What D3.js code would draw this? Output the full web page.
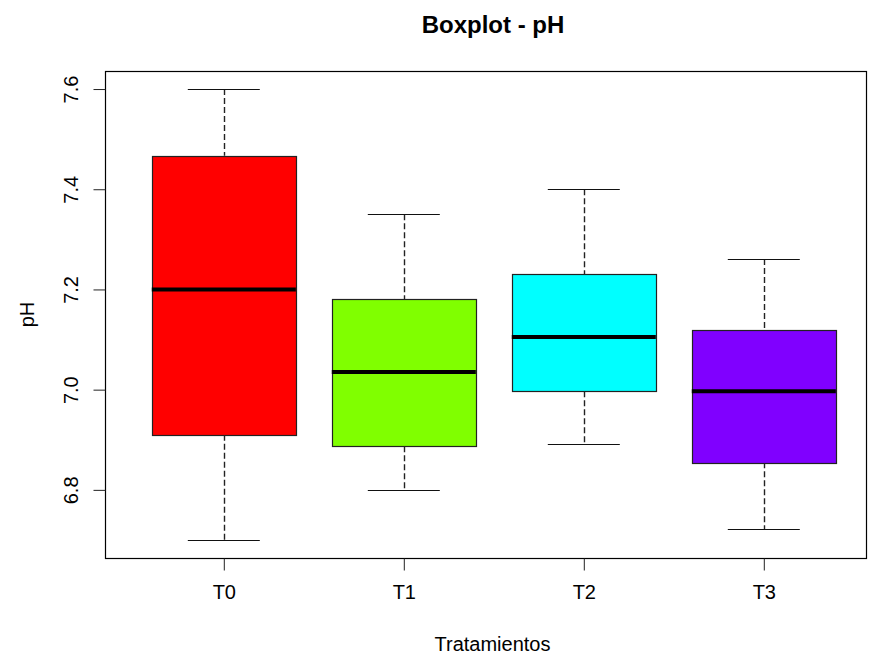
<!DOCTYPE html>
<html>
<head>
<meta charset="utf-8">
<script src="https://cdn.jsdelivr.net/npm/d3@7"></script>
<style>
  html, body { margin: 0; padding: 0; background: #fff; }
  svg { display: block; }
  text { font-family: "Liberation Sans", Arial, sans-serif; fill: #000; }
</style>
</head>
<body>
<svg id="chart" width="870" height="654"></svg>
<script>
// Treatments and their five-number summaries of pH
const categories = ["T0", "T1", "T2", "T3"];
const whiskerLow  = [6.700, 6.800, 6.891, 6.722];
const q1          = [6.910, 6.887, 6.997, 6.855];
const medians     = [7.200, 7.035, 7.105, 6.997];
const q3          = [7.467, 7.180, 7.231, 7.120];
const whiskerHigh = [7.600, 7.350, 7.400, 7.261];
const fills       = ["#FF0000", "#80FF00", "#00FFFF", "#8000FF"];
const yTicks      = [6.8, 7.0, 7.2, 7.4, 7.6];

const svg = d3.select("#chart");

// Plot region
const plotLeft = 105, plotTop = 71, plotBottom = 558, plotRight = 866;

// Scales: R-style ranges extended 4% beyond the data
const yLo = d3.min(whiskerLow), yHi = d3.max(whiskerHigh);
const yPad = (yHi - yLo) * 0.04;
const y = d3.scaleLinear().domain([yLo - yPad, yHi + yPad]).range([plotBottom, plotTop]);

const n = categories.length;
const xPad = n * 0.04;
const x = d3.scaleLinear().domain([0.5 - xPad, n + 0.5 + xPad])
  .range([plotLeft, plotLeft + 180 * (n + 2 * xPad)]);

const boxW = 0.8, capW = 0.4;
const data = categories.map((c, i) => ({
  cat: c, pos: i + 1,
  lo: whiskerLow[i], q1: q1[i], med: medians[i], q3: q3[i], hi: whiskerHigh[i],
  fill: fills[i]
}));

const crisp = v => Math.round(v) + 0.5;

const g = svg.append("g");
const boxes = g.selectAll("g.box").data(data).join("g").attr("class", "box");

// Dashed whiskers
boxes.append("line")
  .attr("x1", d => crisp(x(d.pos))).attr("x2", d => crisp(x(d.pos)))
  .attr("y1", d => y(d.hi)).attr("y2", d => y(d.q3))
  .attr("stroke", "#222").attr("stroke-width", 1.4).attr("stroke-dasharray", "6,3");
boxes.append("line")
  .attr("x1", d => crisp(x(d.pos))).attr("x2", d => crisp(x(d.pos)))
  .attr("y1", d => y(d.q1)).attr("y2", d => y(d.lo))
  .attr("stroke", "#222").attr("stroke-width", 1.4).attr("stroke-dasharray", "6,3");

// Whisker caps
["hi", "lo"].forEach(k => {
  boxes.append("line")
    .attr("x1", d => x(d.pos - capW / 2)).attr("x2", d => x(d.pos + capW / 2))
    .attr("y1", d => crisp(y(d[k]))).attr("y2", d => crisp(y(d[k])))
    .attr("stroke", "#111").attr("stroke-width", 1.2);
});

// Boxes
boxes.append("rect")
  .attr("x", d => crisp(x(d.pos - boxW / 2)))
  .attr("width", d => Math.round(x(d.pos + boxW / 2) - x(d.pos - boxW / 2)))
  .attr("y", d => crisp(y(d.q3)))
  .attr("height", d => Math.round(y(d.q1) - y(d.q3)))
  .attr("fill", d => d.fill)
  .attr("stroke", "#222").attr("stroke-width", 1.2);

// Medians
boxes.append("line")
  .attr("x1", d => x(d.pos - boxW / 2)).attr("x2", d => x(d.pos + boxW / 2))
  .attr("y1", d => y(d.med)).attr("y2", d => y(d.med))
  .attr("stroke", "#000").attr("stroke-width", 4);

// Frame
svg.append("rect")
  .attr("x", plotLeft + 0.5).attr("y", plotTop + 0.5)
  .attr("width", plotRight - plotLeft).attr("height", plotBottom - plotTop)
  .attr("fill", "none").attr("stroke", "#000").attr("stroke-width", 1.2);

// Y axis
const yAxis = d3.axisLeft(y).tickValues(yTicks).tickFormat(d3.format(".1f")).tickSize(12).tickPadding(4);
const ya = svg.append("g").attr("transform", `translate(${plotLeft + 0.5},0)`).call(yAxis);
ya.select(".domain").attr("d", `M0,${y(yTicks[0])}V${y(yTicks[yTicks.length - 1])}`);
ya.selectAll(".tick line").attr("stroke", "#222");
ya.selectAll(".tick text")
  .attr("font-size", 20).attr("font-family", "Liberation Sans, Arial, sans-serif")
  .attr("x", null).attr("dy", null)
  .attr("text-anchor", "middle")
  .attr("transform", "translate(-28,0) rotate(-90)");

// X axis
const xAxis = d3.axisBottom(x).tickValues(data.map(d => d.pos))
  .tickFormat((d, i) => categories[i]).tickSize(12).tickPadding(14);
const xa = svg.append("g").attr("transform", `translate(0,${plotBottom + 0.5})`).call(xAxis);
xa.select(".domain").attr("d", `M${x(1)},0H${x(n)}`);
xa.selectAll(".tick line").attr("stroke", "#222");
xa.selectAll(".tick text")
  .attr("font-size", 20).attr("font-family", "Liberation Sans, Arial, sans-serif");

// Titles
svg.append("text")
  .attr("x", 493).attr("y", 33).attr("text-anchor", "middle")
  .attr("font-size", 24).attr("font-weight", "bold")
  .text("Boxplot - pH");

svg.append("text")
  .attr("x", (plotLeft + plotRight) / 2 + 7).attr("y", 651).attr("text-anchor", "middle")
  .attr("font-size", 20)
  .text("Tratamientos");

svg.append("text")
  .attr("transform", `translate(34,${(plotTop + plotBottom) / 2}) rotate(-90)`)
  .attr("text-anchor", "middle")
  .attr("font-size", 20)
  .text("pH");
</script>
</body>
</html>
